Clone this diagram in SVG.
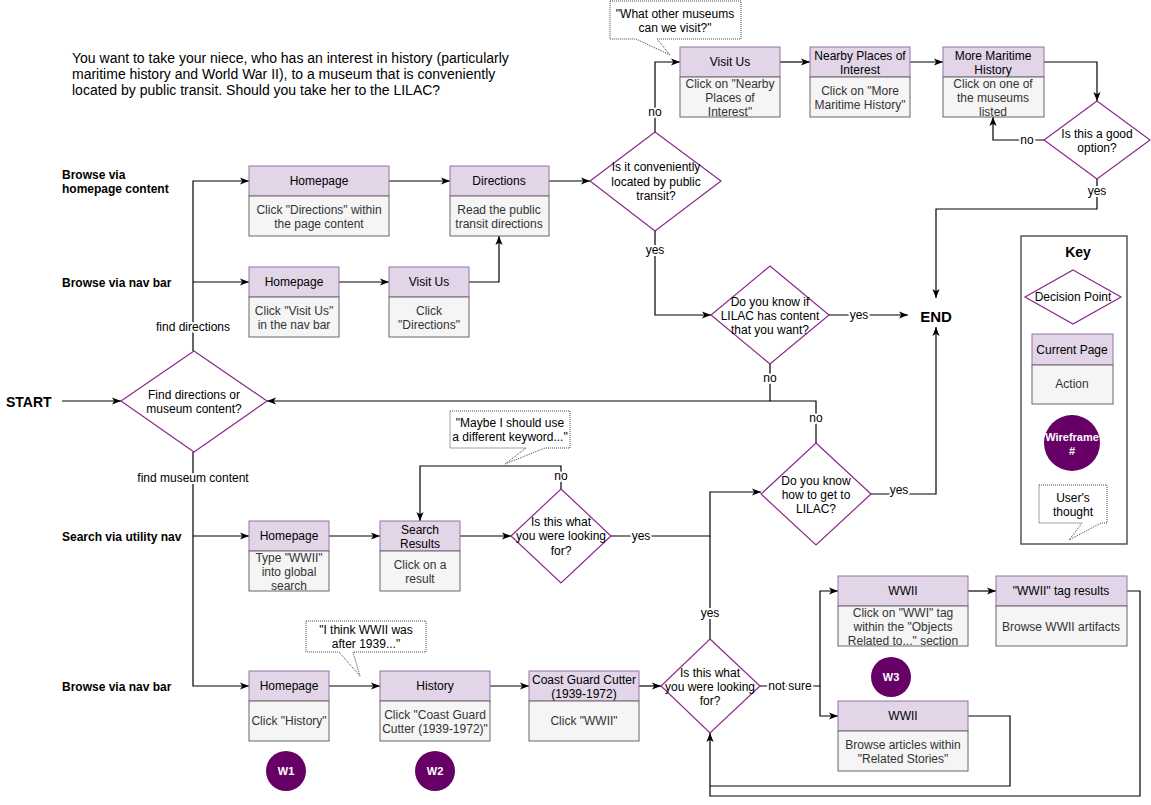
<svg xmlns="http://www.w3.org/2000/svg" width="1151" height="805" viewBox="0 0 1151 805">
<style>
text{font-family:"Liberation Sans",Arial,sans-serif;font-size:12px;fill:#000;text-anchor:middle;dominant-baseline:central}
.hd{fill:#e1d5e7;stroke:#9673a6;stroke-width:1}
.bd{fill:#f5f5f5;stroke:#666;stroke-width:1}
.bt{fill:#333}
.dec{fill:#fff;stroke:#8a2a8a;stroke-width:1.2}
.wf{fill:#660066}
.wt{fill:#fff;font-weight:bold;font-size:11px}
.bub{fill:#fff;stroke:#444;stroke-width:1;stroke-dasharray:1 1}
.lane{font-weight:bold;text-anchor:start}
.lbl{stroke:#fff;stroke-width:4px;paint-order:stroke;stroke-linejoin:round}
.c{fill:none;stroke:#000;stroke-width:1.2}
.a{marker-end:url(#arr)}
</style>
<defs>
<marker id="arr" viewBox="0 0 10 8" refX="10" refY="4" markerWidth="9" markerHeight="7.2" orient="auto" markerUnits="userSpaceOnUse">
<path d="M0,0 L10,4 L0,8 L2.5,4 z" fill="#000"/>
</marker>
</defs>
<rect width="1151" height="805" fill="#fff"/>

<g id="intro">
<text x="72" y="58" style="text-anchor:start;font-size:14px">You want to take your niece, who has an interest in history (particularly</text>
<text x="72" y="74" style="text-anchor:start;font-size:14px">maritime history and World War II), to a museum that is conveniently</text>
<text x="72" y="90" style="text-anchor:start;font-size:14px">located by public transit. Should you take her to the LILAC?</text>
</g>

<g id="lanes">
<text class="lane" x="62" y="175">Browse via</text>
<text class="lane" x="62" y="189">homepage content</text>
<text class="lane" x="62" y="283">Browse via nav bar</text>
<text class="lane" x="6" y="402" style="font-size:14px">START</text>
<text class="lane" x="62" y="537">Search via utility nav</text>
<text class="lane" x="62" y="687">Browse via nav bar</text>
<text x="936" y="316" style="font-weight:bold;font-size:15px">END</text>
</g>

<g id="connectors">
<path class="c a" d="M62,401 H121"/>
<path class="c a" d="M193,351 V181 H249"/>
<path class="c a" d="M193,282 H249"/>
<path class="c a" d="M193,452 V686 H249"/>
<path class="c a" d="M193,536 H249"/>
<path class="c a" d="M389,181 H450"/>
<path class="c a" d="M339,282 H389"/>
<path class="c a" d="M469,282 H499 V236"/>
<path class="c a" d="M549,181 H590"/>
<path class="c a" d="M655,132 V62 H680"/>
<path class="c a" d="M780,62 H810"/>
<path class="c a" d="M910,62 H943"/>
<path class="c a" d="M1044,62 H1097 V101"/>
<path class="c a" d="M1044,140 H993 V117"/>
<path class="c a" d="M1097,179 V209 H936 V298"/>
<path class="c a" d="M655,231 V315 H711"/>
<path class="c a" d="M829,315 H908"/>
<path class="c a" d="M770,364 V401 H267"/>
<path class="c" d="M816,443 V401 H770"/>
<path class="c a" d="M871,494 H936 V327"/>
<path class="c a" d="M329,536 H380"/>
<path class="c a" d="M460,536 H511"/>
<path class="c a" d="M561,489 V466 H420 V521"/>
<path class="c a" d="M611,536 H710 V492 H761"/>
<path class="c" d="M710,639 V536"/>
<path class="c a" d="M329,686 H380"/>
<path class="c a" d="M490,686 H529"/>
<path class="c a" d="M639,686 H661"/>
<path class="c a" d="M760,686 H820 V591 H838"/>
<path class="c a" d="M820,686 V716 H838"/>
<path class="c a" d="M968,591 H996"/>
<path class="c a" d="M1127,591 H1140 V796 H710 V733"/>
<path class="c" d="M968,716 H1010 V786 H710"/>
<text class="lbl" x="193" y="327">find directions</text>
<text class="lbl" x="193" y="478">find museum content</text>
<text class="lbl" x="655" y="112">no</text>
<text class="lbl" x="655" y="250">yes</text>
<text class="lbl" x="1027" y="140">no</text>
<text class="lbl" x="1097" y="191">yes</text>
<text class="lbl" x="859" y="315">yes</text>
<text class="lbl" x="770" y="378">no</text>
<text class="lbl" x="816" y="418">no</text>
<text class="lbl" x="899" y="490">yes</text>
<text class="lbl" x="561" y="476">no</text>
<text class="lbl" x="641" y="536">yes</text>
<text class="lbl" x="710" y="613">yes</text>
<text class="lbl" x="790" y="686">not sure</text>
</g>

<g id="home1">
<rect class="hd" x="249" y="166" width="140" height="30"/><text x="319" y="181">Homepage</text>
<rect class="bd" x="249" y="196" width="140" height="40"/>
<text class="bt" x="319" y="210">Click "Directions" within</text><text class="bt" x="319" y="224">the page content</text>
</g>
<g id="directions">
<rect class="hd" x="450" y="166" width="99" height="30"/><text x="499" y="181">Directions</text>
<rect class="bd" x="450" y="196" width="99" height="40"/>
<text class="bt" x="499" y="210">Read the public</text><text class="bt" x="499" y="224">transit directions</text>
</g>
<g id="home2">
<rect class="hd" x="249" y="267" width="90" height="30"/><text x="294" y="282">Homepage</text>
<rect class="bd" x="249" y="297" width="90" height="40"/>
<text class="bt" x="294" y="311">Click "Visit Us"</text><text class="bt" x="294" y="325">in the nav bar</text>
</g>
<g id="visitus2">
<rect class="hd" x="389" y="267" width="80" height="30"/><text x="429" y="282">Visit Us</text>
<rect class="bd" x="389" y="297" width="80" height="40"/>
<text class="bt" x="429" y="311">Click</text><text class="bt" x="429" y="325">"Directions"</text>
</g>
<g id="dec-transit">
<polygon class="dec" points="655,132 721,181 655,231 590,181"/>
<text x="656" y="167">Is it conveniently</text><text x="656" y="182">located by public</text><text x="656" y="196">transit?</text>
</g>
<g id="visitus1">
<rect class="hd" x="680" y="47" width="100" height="30"/><text x="730" y="62">Visit Us</text>
<rect class="bd" x="680" y="77" width="100" height="40"/>
<text class="bt" x="730" y="84">Click on "Nearby</text><text class="bt" x="730" y="98">Places of</text><text class="bt" x="730" y="112">Interest"</text>
</g>
<g id="nearby">
<rect class="hd" x="810" y="47" width="100" height="30"/><text x="860" y="56">Nearby Places of</text><text x="860" y="70">Interest</text>
<rect class="bd" x="810" y="77" width="100" height="40"/>
<text class="bt" x="860" y="91">Click on "More</text><text class="bt" x="860" y="105">Maritime History"</text>
</g>
<g id="maritime">
<rect class="hd" x="943" y="47" width="101" height="30"/><text x="993" y="56">More Maritime</text><text x="993" y="70">History</text>
<rect class="bd" x="943" y="77" width="101" height="40"/>
<text class="bt" x="993" y="84">Click on one of</text><text class="bt" x="993" y="98">the museums</text><text class="bt" x="993" y="112">listed</text>
</g>
<g id="dec-good">
<polygon class="dec" points="1097,101 1150,140 1097,179 1044,140"/>
<text x="1097" y="134">Is this a good</text><text x="1097" y="148">option?</text>
</g>
<g id="bubble-museums">
<path class="bub" d="M610,1 H741 V39 H657 L670,55 L636,39 H610 Z"/>
<text x="675" y="14">"What other museums</text><text x="675" y="28">can we visit?"</text>
</g>
<g id="dec-content">
<polygon class="dec" points="770,266 829,315 770,364 711,315"/>
<text x="770" y="302">Do you know if</text><text x="770" y="316">LILAC has content</text><text x="770" y="330">that you want?</text>
</g>
<g id="dec-find">
<polygon class="dec" points="194,351 267,401 194,452 121,401"/>
<text x="194" y="395">Find directions or</text><text x="194" y="409">museum content?</text>
</g>
<g id="dec-getto">
<polygon class="dec" points="816,443 871,494 816,545 761,494"/>
<text x="816" y="481">Do you know</text><text x="816" y="495">how to get to</text><text x="816" y="509">LILAC?</text>
</g>
<g id="home3">
<rect class="hd" x="249" y="521" width="80" height="30"/><text x="289" y="536">Homepage</text>
<rect class="bd" x="249" y="551" width="80" height="40"/>
<text class="bt" x="289" y="558">Type "WWII"</text><text class="bt" x="289" y="572">into global</text><text class="bt" x="289" y="586">search</text>
</g>
<g id="search">
<rect class="hd" x="380" y="521" width="80" height="30"/><text x="420" y="530">Search</text><text x="420" y="544">Results</text>
<rect class="bd" x="380" y="551" width="80" height="40"/>
<text class="bt" x="420" y="565">Click on a</text><text class="bt" x="420" y="579">result</text>
</g>
<g id="dec-search">
<polygon class="dec" points="561,489 611,536 561,583 511,536"/>
<text x="561" y="522">Is this what</text><text x="561" y="536">you were looking</text><text x="561" y="551">for?</text>
</g>
<g id="bubble-keyword">
<path class="bub" d="M450,411 H570 V448 H545 L505,464 L526,448 H450 Z"/>
<text x="510" y="423">"Maybe I should use</text><text x="510" y="437">a different keyword..."</text>
</g>
<g id="home4">
<rect class="hd" x="249" y="671" width="80" height="30"/><text x="289" y="686">Homepage</text>
<rect class="bd" x="249" y="701" width="80" height="40"/>
<text class="bt" x="289" y="721">Click "History"</text>
</g>
<g id="history">
<rect class="hd" x="380" y="671" width="110" height="30"/><text x="435" y="686">History</text>
<rect class="bd" x="380" y="701" width="110" height="40"/>
<text class="bt" x="435" y="715">Click "Coast Guard</text><text class="bt" x="435" y="729">Cutter (1939-1972)"</text>
</g>
<g id="coastguard">
<rect class="hd" x="529" y="671" width="110" height="30"/><text x="584" y="680">Coast Guard Cutter</text><text x="584" y="694">(1939-1972)</text>
<rect class="bd" x="529" y="701" width="110" height="40"/>
<text class="bt" x="584" y="721">Click "WWII"</text>
</g>
<g id="dec-history">
<polygon class="dec" points="710,639 760,686 710,733 661,686"/>
<text x="710" y="673">Is this what</text><text x="710" y="687">you were looking</text><text x="710" y="701">for?</text>
</g>
<g id="bubble-1939">
<path class="bub" d="M306,621 H426 V652 H353 L360,676 L339,652 H306 Z"/>
<text x="366" y="630">"I think WWII was</text><text x="366" y="644">after 1939..."</text>
</g>
<g id="wwii1">
<rect class="hd" x="838" y="576" width="130" height="30"/><text x="903" y="591">WWII</text>
<rect class="bd" x="838" y="606" width="130" height="40"/>
<text class="bt" x="903" y="613">Click on "WWI" tag</text><text class="bt" x="903" y="627">within the "Objects</text><text class="bt" x="903" y="641">Related to..." section</text>
</g>
<g id="tagresults">
<rect class="hd" x="996" y="576" width="131" height="30"/><text x="1061" y="591">"WWII" tag results</text>
<rect class="bd" x="996" y="606" width="131" height="40"/>
<text class="bt" x="1061" y="627">Browse WWII artifacts</text>
</g>
<g id="wwii2">
<rect class="hd" x="838" y="701" width="130" height="30"/><text x="903" y="716">WWII</text>
<rect class="bd" x="838" y="731" width="130" height="40"/>
<text class="bt" x="903" y="745">Browse articles within</text><text class="bt" x="903" y="759">"Related Stories"</text>
</g>
<g id="w1"><circle class="wf" cx="286" cy="771" r="20"/><text class="wt" x="286" y="771">W1</text></g>
<g id="w2"><circle class="wf" cx="435" cy="771" r="20"/><text class="wt" x="435" y="771">W2</text></g>
<g id="w3"><circle class="wf" cx="891" cy="677" r="20"/><text class="wt" x="891" y="677">W3</text></g>

<g id="key">
<rect x="1021" y="236" width="106" height="308" fill="#fff" stroke="#555" stroke-width="1.5"/>
<text x="1078" y="252" style="font-weight:bold;font-size:14px">Key</text>
<polygon class="dec" points="1073,270 1121,297 1073,324 1025,297"/>
<text x="1073" y="297">Decision Point</text>
<rect class="hd" x="1032" y="334" width="81" height="31"/><text x="1072" y="350">Current Page</text>
<rect class="bd" x="1032" y="365" width="81" height="39"/><text class="bt" x="1072" y="384">Action</text>
<circle class="wf" cx="1072" cy="443" r="28"/>
<text class="wt" x="1072" y="437">Wireframe</text><text class="wt" x="1072" y="451">#</text>
<path class="bub" d="M1039,485 H1107 V523 H1101 L1069,540 L1082,523 H1039 Z"/>
<text x="1073" y="498">User's</text><text x="1073" y="512">thought</text>
</g>
</svg>
